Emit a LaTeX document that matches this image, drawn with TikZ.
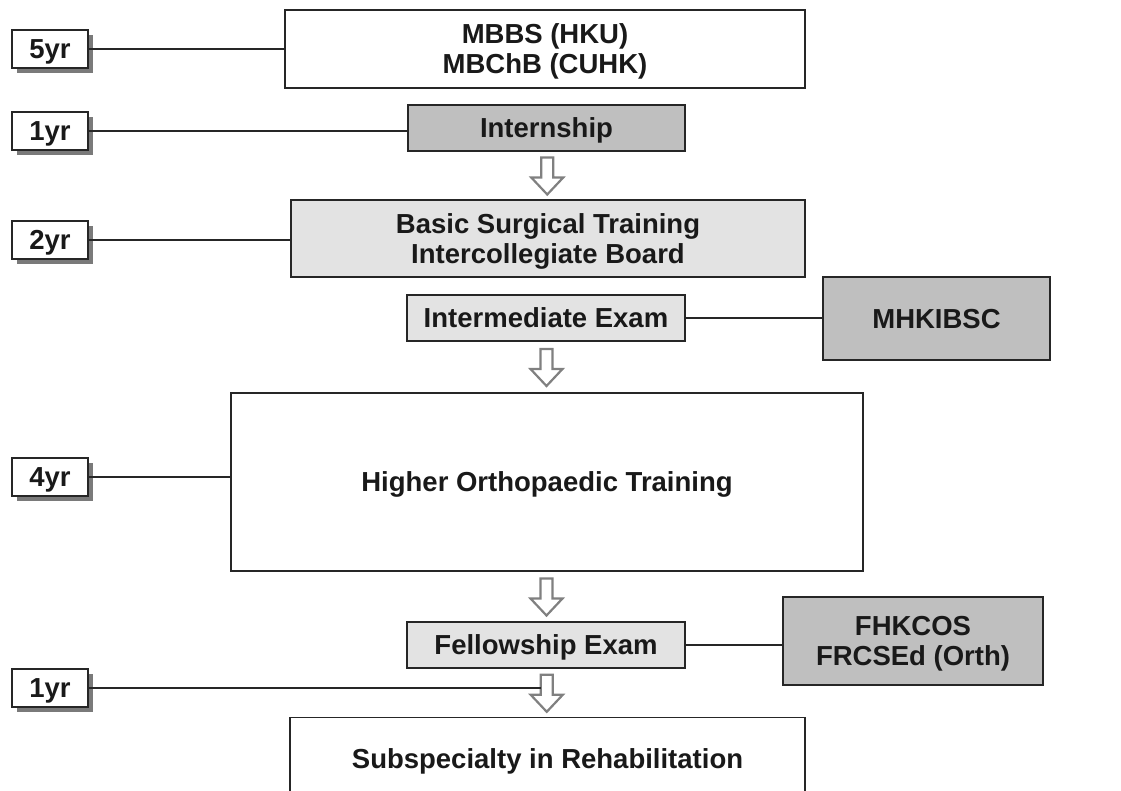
\documentclass[tikz,border=0pt]{standalone}
\usepackage{fontspec}
\setmainfont{Liberation Sans}
\usetikzlibrary{calc}
\begin{document}
\begin{tikzpicture}[x=1pt,y=-1pt,
  every node/.style={font=\fontsize{27.5}{30}\selectfont\bfseries, text=black!90, align=center, inner sep=0pt, text depth=0pt},
  stage/.style={draw=black!85, line width=1.3pt, rectangle},
  plain/.style={stage, fill=white},
  pale/.style={stage, fill=gray!22},
  dark/.style={stage, fill=gray!50},
  yearbox/.style={draw=black!85, line width=1.3pt, fill=white, minimum width=76pt, minimum height=38pt},
  shade/.style={fill=black!52, draw=none},
  link/.style={draw=black!85, line width=1.1pt},
  hollowarrow/.pic={
    \coordinate (-west) at (-6,0);
    \draw[draw=black!50, line width=2.2pt, fill=white, line join=miter]
      (-6,-18) -- (6,-18) -- (6,2) -- (16,2) -- (0,19) -- (-16,2) -- (-6,2) -- cycle;
  }]
\useasboundingbox (0,0) rectangle (1121,791);

% main stages
\node[plain, minimum width=520pt, minimum height=78pt] (mbbs) at (545,49) {MBBS (HKU)\\MBChB (CUHK)};
\node[dark, minimum width=277pt, minimum height=46pt] (intern) at (546.5,128) {Internship};
\node[pale, minimum width=514pt, minimum height=77pt] (bst) at (548,238.5) {Basic Surgical Training\\Intercollegiate Board};
\node[pale, minimum width=278pt, minimum height=46pt] (inter) at (546,318) {Intermediate Exam};
\node[dark, minimum width=227pt, minimum height=83pt] (mhk) at (936.5,318.5) {MHKIBSC};
\node[plain, minimum width=632pt, minimum height=178pt] (hot) at (547,482) {Higher Orthopaedic Training};
\node[pale, minimum width=278pt, minimum height=46pt] (fell) at (546,645) {Fellowship Exam};
\node[dark, minimum width=260pt, minimum height=88pt] (fhk) at (913,641) {FHKCOS\\FRCSEd (Orth)};
\node[plain, minimum width=515pt, minimum height=90pt, anchor=north] (sub) at (547.5,717) {};
\node at (547.5,759) {Subspecialty in Rehabilitation};

% hollow arrows between stages
\pic (a1) at ($(intern.south)!0.5!(bst.north)$) {hollowarrow};
\pic (a2) at ($(inter.south)!0.5!(hot.north)$) {hollowarrow};
\pic (a3) at ($(hot.south)!0.5!(fell.north)$) {hollowarrow};
\pic (a4) at ($(fell.south)!0.5!(sub.north)$) {hollowarrow};

% durations with drop shadows
\foreach \n/\t/\y in {y5/5yr/49, y1/1yr/131, y2/2yr/240, y4/4yr/477, y1b/1yr/688}{
  \fill[shade] (17,\y-14) rectangle (93,\y+24);
  \node[yearbox] (\n) at (50,\y) {\t};
}

% connectors
\draw[link] (y5.east) -- (y5.east -| mbbs.west);
\draw[link] (y1.east) -- (y1.east -| intern.west);
\draw[link] (y2.east) -- (y2.east -| bst.west);
\draw[link] (y4.east) -- (y4.east -| hot.west);
\draw[link] (y1b.east) -- (y1b.east -| a4-west);
\draw[link] (inter.east) -- (inter.east -| mhk.west);
\draw[link] (fell.east) -- (fell.east -| fhk.west);
\end{tikzpicture}
\end{document}
